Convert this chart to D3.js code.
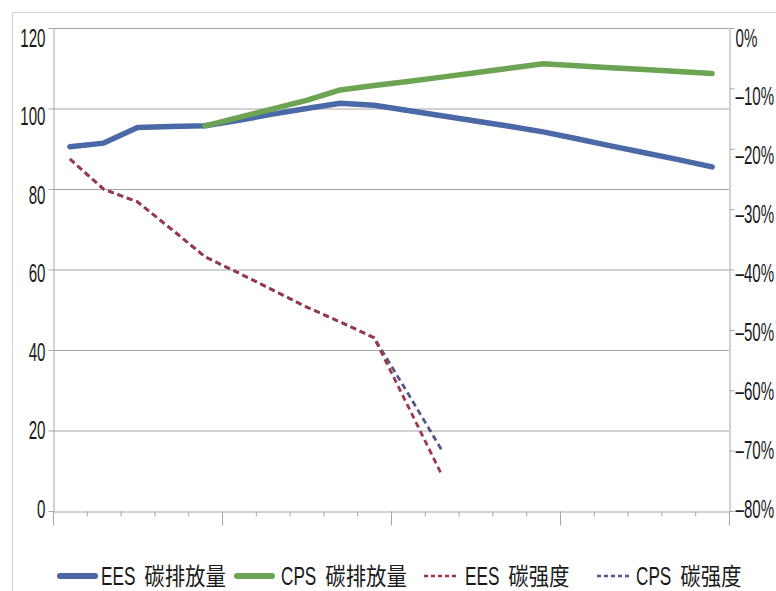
<!DOCTYPE html>
<html><head><meta charset="utf-8">
<script src="https://cdn.jsdelivr.net/npm/d3@7/dist/d3.min.js"></script>
<style>body{margin:0;background:#fff}svg{display:block}</style>
</head><body>
<svg id="chart" width="776" height="591"></svg>
<script>
// ---- data ----
const years = [2010,2011,2012,2013,2014,2015,2016,2017,2018,2019,2020,2021,2022,2023,2024,2025,2026,2027,2028,2029];
const eesEmission = [90.5, 91.4, 95.3, 95.5, 95.7, 97.1, 98.6, 100.0, 101.3, 100.8, 99.5, 98.2, 96.9, 95.6, 94.2, 92.5, 90.7, 89.0, 87.3, 85.5];
const cpsEmission = [null, null, null, null, 95.7, 97.8, 99.9, 102.0, 104.6, 105.7, 106.7, 107.8, 108.9, 110.0, 111.1, 110.6, 110.1, 109.7, 109.2, 108.7];
const eesIntensity = [-21.7, -26.7, -28.8, -33.3, -37.9, -40.6, -43.4, -46.2, -48.7, -51.3, -62.6, -74.0, null, null, null, null, null, null, null, null];
const cpsIntensity = [-21.7, -26.7, -28.8, -33.3, -37.9, -40.6, -43.4, -46.2, -48.7, -51.3, -60.5, -69.9, null, null, null, null, null, null, null, null];
const leftTicks = [0, 20, 40, 60, 80, 100, 120];
const rightTicks = [0, -10, -20, -30, -40, -50, -60, -70, -80];
const legendNames = [["EES", "碳排放量"], ["CPS", "碳排放量"], ["EES", "碳强度"], ["CPS", "碳强度"]];

// ---- layout ----
const svg = d3.select("#chart");
const L = 53, R = 729, T = 28, B = 511;
const gridColor = "#a6a6a6";
const latinFont = "'Liberation Sans', Arial, sans-serif";
const cjkFont = "'Noto Sans CJK SC', sans-serif";

// outer frame
svg.append("path").attr("d", "M12.5,591 V12.5 H776").attr("fill", "none").attr("stroke", "#d0d0d0").attr("stroke-width", 1);

const x = d3.scaleLinear().domain([0, years.length]).range([L, R]);
const yL = d3.scaleLinear().domain([0, 120]).range([B, T]);
const yR = d3.scaleLinear().domain([-80, 0]).range([B, T]);
const px = i => x(i + 0.5);
const labOff = y => 9 - 12 * (y - T) / (B - T);

// gridlines
svg.append("g").selectAll("line").data(leftTicks.filter(d => d > 0)).join("line")
  .attr("x1", L).attr("x2", R).attr("y1", d => yL(d) + 0.5).attr("y2", d => yL(d) + 0.5)
  .attr("stroke", gridColor).attr("stroke-width", 1);

// left axis
const gl = svg.append("g").attr("transform", `translate(${L + 0.5},0)`)
  .call(d3.axisLeft(yL).tickValues(leftTicks).tickSize(5).tickSizeOuter(0).tickFormat(d3.format("d")));
gl.selectAll("path,line").attr("stroke", gridColor);
gl.selectAll("text").attr("x", null).attr("dy", null)
  .attr("transform", d => `translate(-8,${labOff(yL(d)) + 9}) scale(0.58,1)`)
  .attr("font-size", 26).attr("font-family", latinFont).attr("fill", "#1a1a1a");

// right axis
const gr = svg.append("g").attr("transform", `translate(${R + 0.5},0)`)
  .call(d3.axisRight(yR).tickValues(rightTicks).tickSize(5).tickSizeOuter(0)
    .tickFormat(d => (d < 0 ? "\u2013" + Math.abs(d) : d) + "%"));
gr.selectAll("path,line").attr("stroke", gridColor);
gr.selectAll("text").attr("x", null).attr("dy", null)
  .attr("text-anchor", "start")
  .attr("transform", d => `translate(6,${labOff(yR(d)) + 9}) scale(0.58,1)`)
  .attr("font-size", 26).attr("font-family", latinFont).attr("fill", "#1a1a1a");

// bottom axis
const gb = svg.append("g").attr("transform", `translate(0,${B + 0.5})`)
  .call(d3.axisBottom(x).tickValues(d3.range(0, years.length + 1)).tickSize(5).tickSizeOuter(0).tickFormat(""));
gb.selectAll("path,line").attr("stroke", gridColor);
gb.selectAll(".tick line").attr("y2", d => d % 5 === 0 ? 14 : 5);

// lines
const lineL = d3.line().defined(d => d.v != null).x(d => px(d.i)).y(d => yL(d.v));
const lineR = d3.line().defined(d => d.v != null).x(d => px(d.i)).y(d => yR(d.v));
const toPts = arr => arr.map((v, i) => ({ i, v }));

const series = [
  { data: eesEmission, gen: lineL, color: "#4a69a6", w: 5.5, dash: null },
  { data: cpsEmission, gen: lineL, color: "#6ca453", w: 5.5, dash: null },
  { data: eesIntensity, gen: lineR, color: "#9c3848", w: 2.8, dash: "6,4" },
  { data: cpsIntensity, gen: lineR, color: "#535686", w: 2.8, dash: "6,4" }
];
[series[0], series[1], series[3], series[2]].forEach(s => {
  svg.append("path").datum(toPts(s.data)).attr("d", s.gen)
    .attr("fill", "none").attr("stroke", s.color).attr("stroke-width", s.w)
    .attr("stroke-linejoin", "round").attr("stroke-linecap", s.dash ? "butt" : "round")
    .attr("stroke-dasharray", s.dash);
});

// legend
const legendPos = [[60, 95, 101], [237, 272, 281], [424, 457, 465], [597, 630, 636]];
const ly = 576;
legendNames.forEach((nm, k) => {
  const s = series[k], p = legendPos[k];
  svg.append("line").attr("x1", p[0]).attr("x2", p[1]).attr("y1", ly).attr("y2", ly)
    .attr("stroke", s.color).attr("stroke-width", s.dash ? 2.5 : 6)
    .attr("stroke-linecap", s.dash ? "butt" : "round").attr("stroke-dasharray", s.dash ? "4,3" : null);
  const t1 = svg.append("text").text(nm[0])
    .attr("transform", `translate(${p[2]},${ly + 9}) scale(0.66,1)`)
    .attr("font-size", 26).attr("font-family", latinFont).attr("fill", "#1a1a1a");
  const w = t1.node().getComputedTextLength() * 0.66;
  svg.append("text").text(nm[1])
    .attr("transform", `translate(${p[2] + w + 9},${ly + 9}) scale(0.85,1)`)
    .attr("font-size", 24).attr("font-family", cjkFont).attr("fill", "#1a1a1a");
});
</script>
</body></html>
